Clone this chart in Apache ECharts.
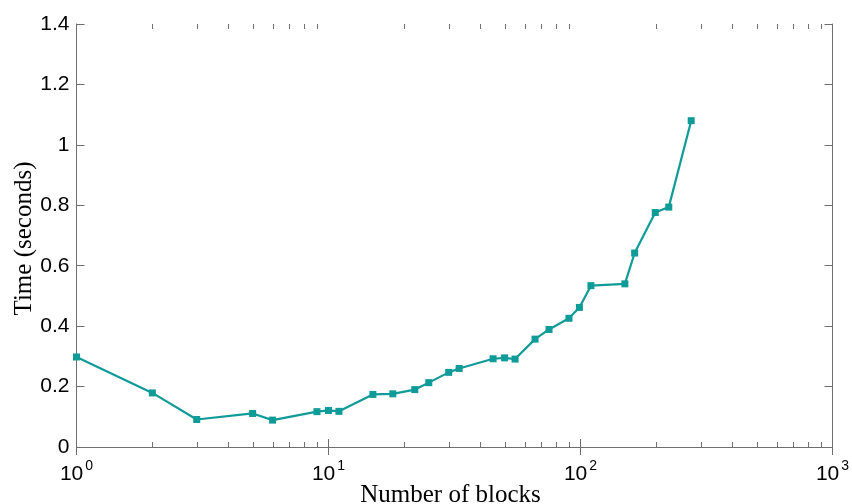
<!DOCTYPE html>
<html>
<head>
<meta charset="utf-8">
<script src="https://cdn.jsdelivr.net/npm/echarts@6/dist/echarts.min.js"></script>
<style>
  html, body { margin: 0; padding: 0; background: #fff; }
  #chart { width: 852px; height: 504px; }
</style>
</head>
<body>
<div id="chart"></div>
<script>
// Data
var blocks = [1, 2, 3, 5, 6, 9, 10, 11, 15, 18, 22, 25, 30, 33, 45, 50, 55, 66, 75, 90, 99, 110, 150, 164, 198, 224, 275];
var times  = [0.298, 0.179, 0.091, 0.111, 0.089, 0.117, 0.121, 0.118, 0.174, 0.176, 0.190, 0.213, 0.247, 0.260, 0.292, 0.295, 0.291, 0.357, 0.389, 0.426, 0.462, 0.534, 0.540, 0.642, 0.776, 0.794, 1.080];
var yTicks = [0, 0.2, 0.4, 0.6, 0.8, 1, 1.2, 1.4];
var xMinorTicks = [2, 3, 4, 5, 6, 7, 8, 9, 20, 30, 40, 50, 60, 70, 80, 90, 200, 300, 400, 500, 600, 700, 800, 900];
var xTitle = 'Number of blocks';
var yTitle = 'Time (seconds)';

var axisGray = '#6f6f6f';
var lineColor = '#0f9b98';
var X_MIN = 1, X_MAX = 1000, Y_MIN = 0, Y_MAX = 1.4;

var chart = echarts.init(document.getElementById('chart'), null, { renderer: 'canvas' });

var pts = blocks.map(function (b, i) { return [b, times[i]]; });
var minorData = xMinorTicks.map(function (v) { return [v, 0]; });

var option = {
  animation: false,
  backgroundColor: '#ffffff',
  grid: { left: 76.5, right: 19.5, top: 24, bottom: 57, containLabel: false, outerBoundsMode: 'none' },
  xAxis: [{
    type: 'log', logBase: 10, min: X_MIN, max: X_MAX,
    position: 'bottom',
    name: xTitle, nameLocation: 'middle', nameGap: 36, nameMoveOverlap: false,
    nameTextStyle: { fontFamily: 'Liberation Serif', fontSize: 25, color: '#000', padding: [0, 8, 0, 0] },
    axisLine: { show: true, lineStyle: { color: axisGray, width: 1 } },
    axisTick: { show: true, inside: true, length: 8, lineStyle: { color: axisGray } },
    splitLine: { show: false },
    axisLabel: {
      margin: 17,
      formatter: function (v) {
        var e = Math.round(Math.log10(v));
        return '{b|10}{s|' + e + '}';
      },
      rich: {
        b: { fontFamily: 'Liberation Sans', fontSize: 21, color: '#000', lineHeight: 21 },
        s: { fontFamily: 'Liberation Sans', fontSize: 14, color: '#000', lineHeight: 14, padding: [0, 0, 17, 2] }
      }
    }
  }, {
    type: 'log', logBase: 10, min: X_MIN, max: X_MAX,
    position: 'top',
    axisLine: { show: true, lineStyle: { color: axisGray, width: 1 } },
    axisTick: { show: true, inside: true, length: 8, lineStyle: { color: axisGray } },
    axisLabel: { show: false },
    splitLine: { show: false }
  }],
  yAxis: [{
    type: 'value', min: Y_MIN, max: Y_MAX, interval: 0.2,
    position: 'left',
    name: yTitle, nameLocation: 'middle', nameGap: 40, nameRotate: 90, nameMoveOverlap: false,
    nameTextStyle: { fontFamily: 'Liberation Serif', fontSize: 25, color: '#000', padding: [0, 6, 0, 0] },
    axisLine: { show: true, lineStyle: { color: axisGray, width: 1 } },
    axisTick: { show: true, inside: true, length: 8, lineStyle: { color: axisGray } },
    splitLine: { show: false },
    axisLabel: {
      margin: 7,
      fontFamily: 'Liberation Sans', fontSize: 21, color: '#000',
      formatter: function (v) {
        for (var i = 0; i < yTicks.length; i++) {
          if (Math.abs(yTicks[i] - v) < 1e-9) return String(yTicks[i]);
        }
        return '';
      }
    }
  }, {
    type: 'value', min: Y_MIN, max: Y_MAX, interval: 0.2,
    position: 'right',
    axisLine: { show: true, lineStyle: { color: axisGray, width: 1 } },
    axisTick: { show: true, inside: true, length: 8, lineStyle: { color: axisGray } },
    axisLabel: { show: false },
    splitLine: { show: false }
  }],
  series: [{
    type: 'custom',
    xAxisIndex: 0, yAxisIndex: 0,
    data: minorData,
    silent: true,
    clip: false,
    z: 5,
    renderItem: function (params, api) {
      var v = api.value(0);
      var pb = api.coord([v, Y_MIN]);
      var pt = api.coord([v, Y_MAX]);
      var x = Math.round(pb[0]) + 0.5;
      var st = { stroke: axisGray, lineWidth: 1 };
      return {
        type: 'group',
        children: [
          { type: 'line', shape: { x1: x, y1: pb[1], x2: x, y2: pb[1] - 5 }, style: st },
          { type: 'line', shape: { x1: x, y1: pt[1], x2: x, y2: pt[1] + 5 }, style: st }
        ]
      };
    }
  }, {
    type: 'line',
    xAxisIndex: 0, yAxisIndex: 0,
    data: pts,
    symbol: 'rect',
    symbolSize: 7,
    showSymbol: true,
    lineStyle: { color: lineColor, width: 2.2 },
    itemStyle: { color: lineColor },
    z: 10
  }]
};
chart.setOption(option);
</script>
</body>
</html>
